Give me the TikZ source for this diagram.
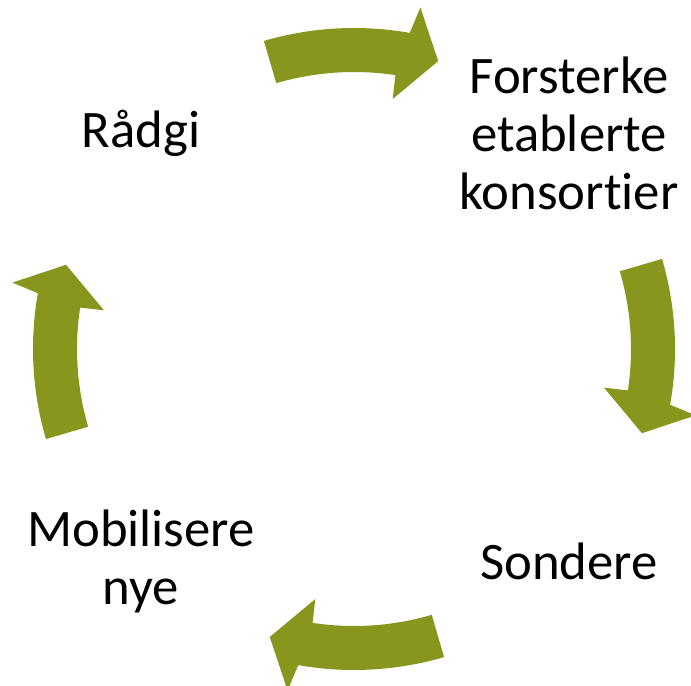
\documentclass[tikz,border=0pt]{standalone}
\usepackage{fontspec}
\setmainfont{Carlito}[Ligatures=NoCommon]
\usepackage{tikz}
\usetikzlibrary{positioning}
\definecolor{olive}{RGB}{136,150,30}
\tikzset{
  stage/.style={align=center,font=\fontsize{30}{33}\selectfont},
  cyclearrow/.style={fill=olive,draw=none}
}
% one curved block arrow of the cycle, #1 = middle angle
\newcommand{\cyclearrow}[1]{%
  \fill[cyclearrow] (#1+16.3:6.42) arc[start angle=#1+16.3,end angle=#1-10,radius=6.42]
    -- (#1-11:6.96) -- (#1-16.3:6.0) -- (#1-8.8:5.06) -- (#1-8.6:5.54)
    arc[start angle=#1-8.6,end angle=#1+16.3,radius=5.54] -- cycle;}

\begin{document}
\begin{tikzpicture}
  \useasboundingbox (0,0) rectangle (13.82,-13.72);
  \coordinate (c) at (7.08,-6.98);
  \node[stage] (forsterke) at (11.38,-2.66) {Forsterke\\etablerte\\konsortier};
  \node[stage] (sondere) at (11.38,-11.22) {Sondere};
  \node[stage] (mobilisere) at (2.82,-11.22) {Mobilisere\\nye};
  \node[stage] (radgi) at (2.82,-2.66) {Rådgi};
  \begin{scope}[shift={(c)}]
    \cyclearrow{90}
    \cyclearrow{0}
    \cyclearrow{-90}
    \cyclearrow{180}
  \end{scope}
\end{tikzpicture}
\end{document}
